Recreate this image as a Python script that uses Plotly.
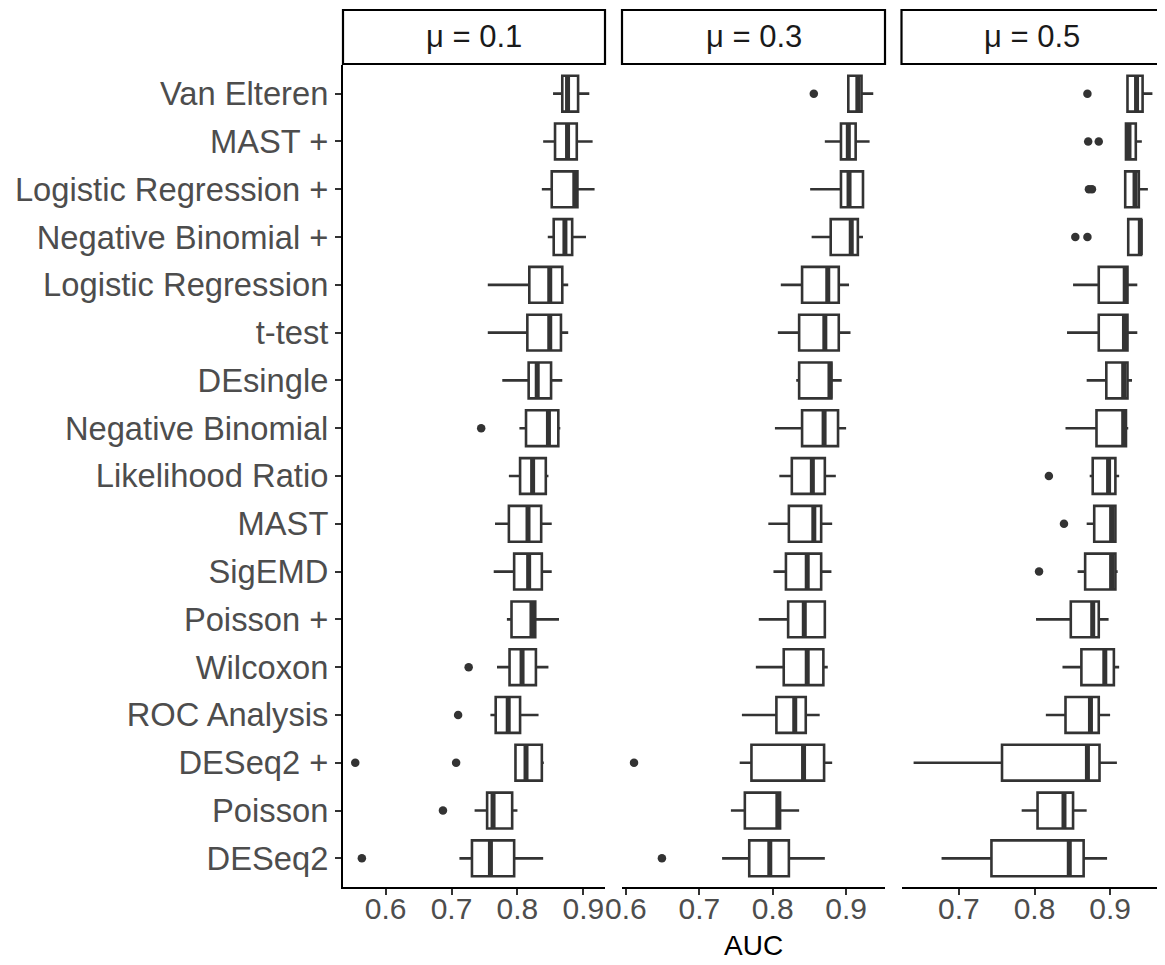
import plotly.graph_objects as go

methods = ["Van Elteren", "MAST +", "Logistic Regression +", "Negative Binomial +",
           "Logistic Regression", "t-test", "DEsingle", "Negative Binomial",
           "Likelihood Ratio", "MAST", "SigEMD", "Poisson +", "Wilcoxon",
           "ROC Analysis", "DESeq2 +", "Poisson", "DESeq2"]

panel_titles = ["μ = 0.1", "μ = 0.3", "μ = 0.5"]

# ---- mu = 0.1 ----
lo_1  = [0.854, 0.839, 0.837, 0.846, 0.755, 0.755, 0.777, 0.803, 0.787, 0.766, 0.764, 0.784, 0.769, 0.759, 0.796, 0.735, 0.712]
q1_1  = [0.868, 0.857, 0.852, 0.855, 0.818, 0.815, 0.817, 0.813, 0.804, 0.787, 0.795, 0.791, 0.788, 0.767, 0.797, 0.754, 0.731]
med_1 = [0.876, 0.876, 0.887, 0.872, 0.849, 0.849, 0.830, 0.847, 0.823, 0.816, 0.817, 0.822, 0.807, 0.786, 0.813, 0.763, 0.759]
q3_1  = [0.892, 0.890, 0.891, 0.883, 0.868, 0.866, 0.851, 0.862, 0.843, 0.836, 0.837, 0.827, 0.828, 0.804, 0.837, 0.792, 0.795]
hi_1  = [0.909, 0.914, 0.917, 0.904, 0.877, 0.877, 0.868, 0.865, 0.847, 0.852, 0.852, 0.863, 0.847, 0.832, 0.840, 0.800, 0.839]
out_1_method = ["Negative Binomial", "Wilcoxon", "ROC Analysis", "DESeq2 +", "DESeq2 +", "Poisson", "DESeq2"]
out_1_value  = [0.745, 0.726, 0.710, 0.554, 0.707, 0.687, 0.564]

# ---- mu = 0.3 ----
lo_2  = [0.902, 0.871, 0.851, 0.853, 0.811, 0.807, 0.832, 0.803, 0.809, 0.794, 0.801, 0.781, 0.777, 0.758, 0.755, 0.743, 0.731]
q1_2  = [0.903, 0.893, 0.893, 0.879, 0.840, 0.836, 0.836, 0.840, 0.826, 0.822, 0.818, 0.821, 0.815, 0.805, 0.771, 0.762, 0.768]
med_2 = [0.916, 0.903, 0.904, 0.907, 0.875, 0.871, 0.878, 0.870, 0.854, 0.856, 0.847, 0.843, 0.847, 0.830, 0.842, 0.807, 0.796]
q3_2  = [0.921, 0.913, 0.923, 0.916, 0.890, 0.890, 0.880, 0.889, 0.871, 0.866, 0.866, 0.871, 0.869, 0.845, 0.870, 0.810, 0.822]
hi_2  = [0.937, 0.932, 0.924, 0.923, 0.904, 0.906, 0.894, 0.900, 0.886, 0.881, 0.880, 0.871, 0.875, 0.864, 0.881, 0.836, 0.871]
out_2_method = ["Van Elteren", "DESeq2 +", "DESeq2"]
out_2_value  = [0.856, 0.611, 0.649]

# ---- mu = 0.5 ----
lo_3  = [0.923, 0.921, 0.920, 0.923, 0.851, 0.843, 0.869, 0.841, 0.873, 0.869, 0.857, 0.802, 0.837, 0.815, 0.640, 0.783, 0.677]
q1_3  = [0.923, 0.921, 0.920, 0.924, 0.885, 0.885, 0.895, 0.882, 0.877, 0.879, 0.867, 0.848, 0.862, 0.841, 0.757, 0.804, 0.743]
med_3 = [0.935, 0.925, 0.933, 0.940, 0.920, 0.919, 0.918, 0.918, 0.898, 0.902, 0.902, 0.877, 0.893, 0.874, 0.870, 0.839, 0.846]
q3_3  = [0.943, 0.934, 0.938, 0.941, 0.923, 0.923, 0.923, 0.921, 0.907, 0.907, 0.907, 0.885, 0.905, 0.885, 0.886, 0.851, 0.865]
hi_3  = [0.956, 0.942, 0.950, 0.942, 0.936, 0.936, 0.929, 0.924, 0.912, 0.908, 0.910, 0.898, 0.912, 0.900, 0.909, 0.869, 0.896]
out_3_method = ["Van Elteren", "MAST +", "MAST +", "Logistic Regression +", "Logistic Regression +",
                "Negative Binomial +", "Negative Binomial +", "Likelihood Ratio", "MAST", "SigEMD"]
out_3_value  = [0.870, 0.871, 0.885, 0.872, 0.876, 0.854, 0.870, 0.819, 0.839, 0.806]

x_ticks = [[0.6, 0.7, 0.8, 0.9], [0.6, 0.7, 0.8, 0.9], [0.7, 0.8, 0.9]]
x_tick_text = [["0.6", "0.7", "0.8", "0.9"], ["0.6", "0.7", "0.8", "0.9"], ["0.7", "0.8", "0.9"]]
x_ranges = [[0.5354, 0.9328], [0.5946, 0.953], [0.624, 0.970]]

panels = [
    (lo_1, q1_1, med_1, q3_1, hi_1, out_1_method, out_1_value),
    (lo_2, q1_2, med_2, q3_2, hi_2, out_2_method, out_2_value),
    (lo_3, q1_3, med_3, q3_3, hi_3, out_3_method, out_3_value),
]

OFF = 8  # default page body margin
W, H = 1165 - OFF, 965 - OFF
ML, MR = 343 - OFF, 2
MT = 65 - OFF
MB = H - (887 - OFF)
pw = W - ML - MR
ph = H - MT - MB
px_domains = [(343, 605), (622, 885), (901.5, 1163)]
domains = [[(a - 343) / pw, (b - 343) / pw] for a, b in px_domains]

def page_y_to_paper(y):
    return (887 - y) / ph

LINE = "#333333"
FONT = "Liberation Sans, Arial, sans-serif"
BOXW = 0.75
pos = list(range(len(methods)))
idx = {m: i for i, m in enumerate(methods)}

fig = go.Figure()
for p, (lo, q1, med, q3, hi, om, ov) in enumerate(panels):
    xa = "x" if p == 0 else f"x{p+1}"
    ya = "y" if p == 0 else f"y{p+1}"
    fig.add_trace(go.Box(
        orientation="h", y=pos, q1=q1, median=med, q3=q3,
        lowerfence=lo, upperfence=hi, width=BOXW, whiskerwidth=0,
        fillcolor="white", line=dict(color=LINE, width=2.6),
        boxpoints=False, xaxis=xa, yaxis=ya, showlegend=False, hoverinfo="skip"))
    mx, my = [], []
    for i, m in enumerate(med):
        mx += [m, m, None]
        my += [i - BOXW / 2, i + BOXW / 2, None]
    fig.add_trace(go.Scatter(x=mx, y=my, mode="lines",
                             line=dict(color=LINE, width=5),
                             xaxis=xa, yaxis=ya, showlegend=False, hoverinfo="skip"))
    fig.add_trace(go.Scatter(x=ov, y=[idx[m] for m in om], mode="markers",
                             marker=dict(color=LINE, size=8.5),
                             xaxis=xa, yaxis=ya, showlegend=False, hoverinfo="skip"))

tick_font = dict(family=FONT, size=30, color="#4D4D4D")
layout = dict(
    width=W, height=H, plot_bgcolor="white", paper_bgcolor="white",
    margin=dict(l=ML, r=MR, t=MT, b=MB), showlegend=False,
    font=dict(family=FONT),
)
for p in range(3):
    xk = "xaxis" if p == 0 else f"xaxis{p+1}"
    yk = "yaxis" if p == 0 else f"yaxis{p+1}"
    ya = "y" if p == 0 else f"y{p+1}"
    xa = "x" if p == 0 else f"x{p+1}"
    layout[xk] = dict(domain=domains[p], anchor=ya, range=x_ranges[p],
                      tickmode="array", tickvals=x_ticks[p], ticktext=x_tick_text[p],
                      showgrid=False, zeroline=False, showline=True,
                      linecolor="black", linewidth=2.2, ticks="outside", ticklen=6,
                      tickwidth=2, tickcolor=LINE, tickfont=tick_font,
                      ticklabelstandoff=-12)
    if p == 0:
        layout[yk] = dict(domain=[0, 1], anchor=xa, range=[len(methods) - 0.4, -0.6],
                          tickmode="array", tickvals=pos, ticktext=methods,
                          showgrid=False, zeroline=False, showline=True,
                          linecolor="black", linewidth=2.2, ticks="outside", ticklen=6,
                          tickwidth=2, tickcolor=LINE,
                          tickfont=dict(family=FONT, size=32.7, color="#4D4D4D"))
    else:
        layout[yk] = dict(domain=[0, 1], anchor=xa, range=[len(methods) - 0.4, -0.6],
                          showgrid=False, zeroline=False, showline=False,
                          showticklabels=False, ticks="")
fig.update_layout(**layout)

strip_y0 = page_y_to_paper(64)
strip_y1 = page_y_to_paper(10)
for p, t in enumerate(panel_titles):
    x0, x1 = domains[p]
    fig.add_shape(type="rect", xref="paper", yref="paper", x0=x0, x1=x1,
                  y0=strip_y0, y1=strip_y1, line=dict(color="black", width=2.2),
                  fillcolor="white", layer="above")
    fig.add_annotation(x=(x0 + x1) / 2, y=(strip_y0 + strip_y1) / 2, xref="paper", yref="paper",
                       text=t, showarrow=False, xanchor="center", yanchor="middle",
                       font=dict(family=FONT, size=31, color="#1A1A1A"))

fig.add_annotation(x=(753 - 343) / pw, y=page_y_to_paper(945), xref="paper", yref="paper",
                   text="AUC", showarrow=False, xanchor="center", yanchor="middle",
                   font=dict(family=FONT, size=28, color="black"))

fig.write_html("out.html")
